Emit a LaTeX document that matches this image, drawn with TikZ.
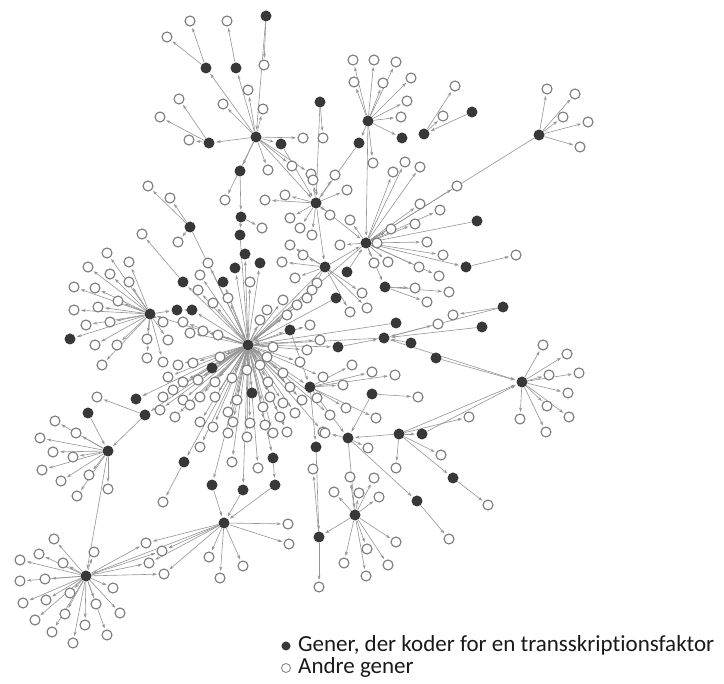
\documentclass[tikz,border=0pt]{standalone}
\usepackage{fontspec}
\setmainfont{Carlito}[Ligatures=NoCommon]
\usetikzlibrary{arrows.meta}
\pgfdeclarelayer{bg}
\pgfsetlayers{bg,main}
\tikzset{
  tf/.style={circle,fill=black!78,inner sep=0pt,minimum size=11pt},
  og/.style={circle,draw=black!52,fill=white,line width=1.1pt,inner sep=0pt,minimum size=10pt},
  link/.style={draw=black!42,line width=0.6pt,-{Stealth[length=4.5pt,width=3pt]},shorten >=1.5pt},
  key/.style={anchor=west,inner sep=0pt,font=\fontsize{23}{26}\selectfont,text=black!90},
}
\newcommand{\satfan}[3]{%
  \foreach \x/\y [count=\i] in {#3} {
    \node[og] (#2-\i) at (\x,\y) {};
    \begin{pgfonlayer}{bg}\draw[link] (#1) -- (#2-\i);\end{pgfonlayer}
  }}
\begin{document}
\begin{tikzpicture}[x=1pt,y=-1pt]
  \useasboundingbox (0,0) rectangle (724,684);
  % hubs and transcription factors
  \foreach \n/\x/\y in {A/248/345, B/150/314, C/108/451, D/86/576, E/224/523, F/355/515,
      G/522/382, H/539/135, I/368/121, J/256/137, K/366/243, L/310/387, M/348/438,
      N/399/434, O/384/338, P/316/203, Q/325/267,
      t1/266/16, t2/206/68, t3/236/68, t4/320/102, t5/472/112, t6/209/143, t7/281/144,
      t8/402/138, t9/424/134, t10/359/143, t11/240/171, t12/190/227, t13/241/217,
      t14/240/235, t15/477/221, t16/260/263, t17/235/268, t18/223/282, t19/183/282,
      t20/347/272, t21/466/267, t22/385/287, t23/177/310, t24/192/310, t25/70/339,
      t26/503/307, t27/482/327, t28/396/323, t29/411/343, t30/436/358, t31/290/330,
      t32/336/298, t33/212/368, t34/136/399, t35/145/415, t36/88/413, t37/372/394,
      t38/422/434, t39/252/393, t40/184/462, t41/273/458, t42/316/447, t43/243/490,
      t44/212/485, t45/453/478, t46/417/501, t47/319/537, t48/245/254, t49/275/485,
      t50/338/347}
    \node[tf] (\n) at (\x,\y) {};

  % other genes
  \satfan{A}{a}{208/263, 200/275, 198/290, 250/282, 213/303, 228/298, 183/322, 190/333,
      203/331, 218/335, 220/357, 193/363, 178/365, 168/377, 183/382, 198/380, 215/382,
      232/378, 247/370, 260/365, 267/357, 273/347, 260/320, 267/310, 287/315, 283/300,
      297/305, 307/298, 317/283, 310/325, 320/340, 307/350, 300/362, 283/373, 268/382,
      270/397, 290/387, 323/377, 317/398, 283/403, 263/407, 237/400, 228/412, 215/397,
      200/397, 183/400, 173/390, 163/397, 160/410, 175/417, 190/405, 200/422, 213/427,
      228/433, 247/437, 233/422, 250/423, 265/425, 280/417, 295/413, 302/400, 273/433,
      287/432, 323/432, 330/415, 232/462, 258/468, 200/447}
  \satfan{B}{b}{107/253, 129/262, 88/267, 110/274, 129/282, 74/287, 95/288, 118/301,
      74/310, 98/307, 86/325, 110/322, 95/345, 117/345, 147/339, 147/358, 163/362,
      102/365, 168/340, 163/322}
  \satfan{C}{c}{55/421, 76/433, 40/438, 53/452, 73/457, 42/470, 61/481, 89/475, 77/496, 108/489}
  \satfan{D}{d}{54/539, 39/554, 20/560, 63/563, 20/581, 45/579, 23/603, 46/600, 70/593,
      35/620, 65/614, 52/632, 73/643, 85/625, 96/604, 107/635, 113/588, 120/613, 94/552}
  \satfan{E}{de}{146/543, 162/551, 149/563, 164/574}
  \satfan{E}{e}{288/524, 289/544, 209/557, 243/566, 220/578}
  \satfan{F}{f}{350/477, 334/492, 359/493, 374/478, 379/497, 396/542, 367/549, 344/563,
      388/565, 366/576}
  \satfan{G}{g}{543/345, 567/354, 549/375, 579/373, 568/393, 547/406, 569/417, 520/419, 546/432}
  \satfan{H}{h}{547/89, 575/94, 563/117, 588/122, 580/147}
  \satfan{I}{i}{353/60, 374/60, 396/62, 354/82, 383/83, 411/78, 407/101, 401/117, 373/163}
  \satfan{J}{j}{248/90, 223/104, 263/109, 268/170, 292/166, 311/174, 303/138, 225/200}
  \satfan{K}{k}{415/224, 391/229, 420/204, 427/242, 443/255, 419/267, 439/276, 377/243,
      374/263, 388/262, 420/167, 440/210, 405/162, 393/172, 457/186, 350/220, 340/245}
  \satfan{L}{l}{346/408, 376/418, 352/365, 372/372, 395/375, 343/385}
  \satfan{M}{m}{325/433, 368/448}
  \satfan{N}{n}{469/417, 441/455, 396/468}
  \satfan{P}{p}{313/180, 335/175, 347/190, 290/218, 300/228, 330/215, 312/235, 285/195, 265/200}
  \satfan{Q}{q}{303/255, 290/245, 282/262, 295/278, 312/290, 362/293, 350/312, 367/308}
  \satfan{t1}{ta}{264/65}
  \satfan{t2}{tb}{190/21, 167/37}
  \satfan{t3}{tc}{227/21}
  \satfan{t4}{td}{323/138}
  \satfan{t6}{te}{179/99, 160/117, 189/140}
  \satfan{t9}{tf}{443/116, 455/86}
  \satfan{t12}{tg}{148/186, 170/198, 178/242}
  \satfan{t13}{th}{262/228}
  \satfan{t19}{ti}{142/234}
  \satfan{t21}{tj}{516/255}
  \satfan{t22}{tk}{415/288, 449/292, 427/302}
  \satfan{t26}{tl}{453/315}
  \satfan{O}{tm}{438/324}
  \satfan{t35}{tn}{97/397}
  \satfan{t37}{to}{418/397}
  \satfan{t40}{tp}{163/502}
  \satfan{t45}{tq}{488/505}
  \satfan{t46}{tr}{449/539}
  \satfan{t47}{ts}{319/587, 313/469}

  \begin{pgfonlayer}{bg}
    \foreach \i in {1,...,4} \draw[link] (D) -- (de-\i);
    \foreach \a/\b in {C/D, E/D, A/B, B/t23, t24/t23, A/t24, A/L, L/M, M/F, N/M, L/t42,
        A/t33, A/t39, A/t31, A/t18, A/t17, A/t48, A/t16, A/t19, A/t50, A/t34, A/t35,
        A/t40, A/t41, A/t43, A/t44, t41/t49, t49/E, t43/E, t44/E, t35/C, t36/C, B/t25,
        H/K, I/t8, I/t10, t5/t9, J/t2, J/t3, J/t6, J/t7, J/t11, t11/t13, t13/t14,
        t14/A, t12/A, K/A, K/t21, t15/K, K/t22, t26/O, t27/O, O/G, t30/G, N/G, t29/O,
        O/A, Q/A, P/Q, P/K, Q/K, t20/K, t32/A, I/K, t4/P, t10/P, t7/P, N/t38, t38/G,
        t37/M, N/t45, M/t46, F/t47, t42/t47, t50/O, t31/L, t28/A, J/P, t1/J}
      \draw[link] (\a) -- (\b);
  \end{pgfonlayer}

  % legend
  \node[tf,minimum size=9pt] (k1) at (286,646) {};
  \node[key] (k1t) at (298,645) {Gener, der koder for en transskriptionsfaktor};
  \node[og,minimum size=9pt,line width=0.8pt] (k2) at (286,668) {};
  \node[key] (k2t) at (298,667) {Andre gener};
\end{tikzpicture}
\end{document}
